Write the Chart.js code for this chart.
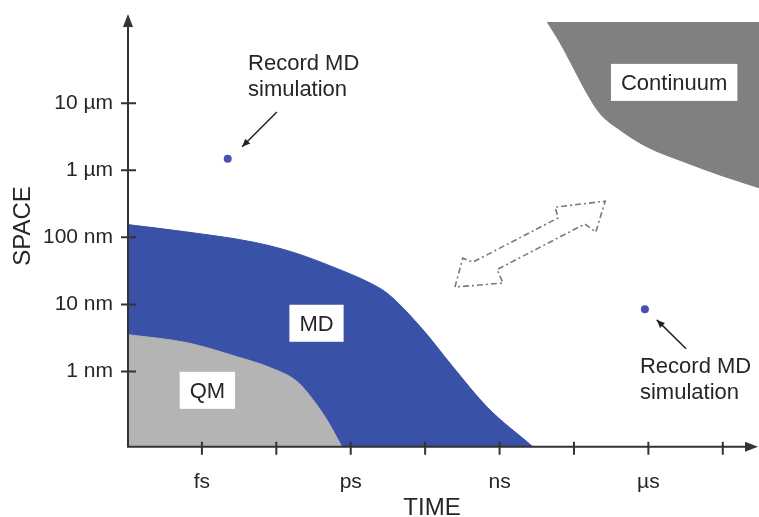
<!DOCTYPE html>
<html>
<head>
<meta charset="utf-8">
<script src="https://cdn.jsdelivr.net/npm/chart.js@4"></script>
<style>
  html, body { margin: 0; padding: 0; background: #fff; }
  #wrap { width: 759px; height: 517px; }
</style>
</head>
<body>
<div id="wrap"><canvas id="chart" width="759" height="517"></canvas></div>
<script>
// both axes are in log10 units (seconds, metres)
const xTicks = [-15, -13.5, -12, -10.5, -9, -7.5, -6, -4.5];
const xLabels = ['fs', '', 'ps', '', 'ns', '', 'µs', ''];
const yTicks = [-9, -8, -7, -6, -5];
const yLabels = ['1 nm', '10 nm', '100 nm', '1 µm', '10 µm'];

// region edges
const mdX = [-16.49, -15.30, -13.97, -13.17, -12.36, -11.61, -11.27, -10.60, -9.94, -9.25, -8.33];
const mdY = [-6.81, -6.92, -7.07, -7.22, -7.44, -7.68, -7.83, -8.33, -8.93, -9.53, -10.12];
const qmX = [-16.49, -15.30, -14.29, -13.63, -13.08, -12.76, -12.48, -12.18];
const qmY = [-8.45, -8.57, -8.78, -8.94, -9.15, -9.42, -9.72, -10.12];
const contX = [-8.04, -7.78, -7.52, -7.24, -6.98, -6.57, -6.03, -5.22, -4.56, -3.77];
const contY = [-3.79, -4.10, -4.46, -4.85, -5.15, -5.40, -5.65, -5.89, -6.07, -6.26];

// record MD simulations
const recordX = [-14.48, -6.07];
const recordY = [-5.83, -8.07];

// dashed double arrow outline
const bridgeX = [-9.90, -9.74, -9.54, -7.82, -7.88, -6.87, -7.06, -7.28, -9.05, -8.93, -9.90];
const bridgeY = [-7.74, -7.31, -7.37, -6.71, -6.55, -6.46, -6.92, -6.80, -7.48, -7.68, -7.74];

const regionNames = ['QM', 'MD', 'Continuum'];
const regionX = [-14.89, -12.69, -5.48];
const regionY = [-9.28, -8.28, -4.69];

const noteLines = ['Record MD', 'simulation'];
const noteX = [-14.07, -6.17];
const noteY = [-4.50, -9.02];
const pointerFromX = [-13.49, -5.24];
const pointerFromY = [-5.13, -8.66];
const pointerToX = [-14.19, -5.83];
const pointerToY = [-5.65, -8.23];

const FONT = '"Liberation Sans", Arial, sans-serif';
const INK = '#262626';

const pts = (xs, ys) => xs.map((v, i) => ({x: v, y: ys[i]}));

function arrowHead(ctx, x1, y1, x2, y2, len, half) {
  const a = Math.atan2(y2 - y1, x2 - x1);
  ctx.beginPath();
  ctx.moveTo(x2, y2);
  ctx.lineTo(x2 - len * Math.cos(a) + half * Math.sin(a), y2 - len * Math.sin(a) - half * Math.cos(a));
  ctx.lineTo(x2 - len * Math.cos(a) - half * Math.sin(a), y2 - len * Math.sin(a) + half * Math.cos(a));
  ctx.closePath();
  ctx.fill();
}

const decorations = {
  id: 'decorations',
  afterDatasetsDraw(chart) {
    const {ctx, chartArea: a, scales: {x, y}} = chart;
    ctx.save();

    // axes with arrows and crossing ticks
    ctx.strokeStyle = '#333';
    ctx.fillStyle = '#333';
    ctx.lineWidth = 2;
    ctx.beginPath();
    ctx.moveTo(a.left, a.bottom + 1);
    ctx.lineTo(a.left, a.top - 4);
    ctx.moveTo(a.left - 1, a.bottom);
    ctx.lineTo(a.right - 8, a.bottom);
    ctx.stroke();
    arrowHead(ctx, a.left, a.bottom, a.left, a.top - 8, 13, 5);
    arrowHead(ctx, a.left, a.bottom, a.right - 1, a.bottom, 13, 5);
    ctx.beginPath();
    x.ticks.forEach(t => {
      const px = x.getPixelForValue(t.value);
      ctx.moveTo(px, a.bottom - 5);
      ctx.lineTo(px, a.bottom + 8);
    });
    y.ticks.forEach(t => {
      const py = y.getPixelForValue(t.value);
      ctx.moveTo(a.left - 7, py);
      ctx.lineTo(a.left + 8, py);
    });
    ctx.stroke();

    // pointer arrows
    ctx.strokeStyle = '#222';
    ctx.fillStyle = '#222';
    ctx.lineWidth = 1.5;
    pointerFromX.forEach((fx, i) => {
      const x1 = x.getPixelForValue(fx), y1 = y.getPixelForValue(pointerFromY[i]);
      const x2 = x.getPixelForValue(pointerToX[i]), y2 = y.getPixelForValue(pointerToY[i]);
      ctx.beginPath();
      ctx.moveTo(x1, y1);
      ctx.lineTo(x2, y2);
      ctx.stroke();
      arrowHead(ctx, x1, y1, x2, y2, 8, 3.5);
    });

    // notes
    ctx.fillStyle = INK;
    ctx.font = '22px ' + FONT;
    ctx.textAlign = 'left';
    ctx.textBaseline = 'alphabetic';
    noteX.forEach((nx, i) => {
      const px = x.getPixelForValue(nx), py = y.getPixelForValue(noteY[i]);
      noteLines.forEach((line, k) => ctx.fillText(line, px, py + k * 26));
    });

    // region labels in white boxes
    ctx.textAlign = 'center';
    regionNames.forEach((name, i) => {
      const cx = x.getPixelForValue(regionX[i]), cy = y.getPixelForValue(regionY[i]);
      const w = ctx.measureText(name).width + 20;
      const h = 37;
      ctx.fillStyle = '#fff';
      ctx.fillRect(cx - w / 2, cy - h / 2, w, h);
      ctx.fillStyle = INK;
      ctx.fillText(name, cx, cy + 8);
    });

    // axis titles
    ctx.font = '24px ' + FONT;
    ctx.fillStyle = INK;
    ctx.fillText('TIME', 432, 515);
    ctx.translate(30, 226);
    ctx.rotate(-Math.PI / 2);
    ctx.fillText('SPACE', 0, 0);

    ctx.restore();
  }
};

new Chart(document.getElementById('chart'), {
  type: 'line',
  data: {
    datasets: [
      {
        data: pts(recordX, recordY),
        showLine: false,
        pointRadius: 4,
        pointBackgroundColor: '#4b4fb2',
        pointBorderWidth: 0,
        order: 0
      },
      {
        data: pts(bridgeX, bridgeY),
        borderColor: '#7a7a7a',
        borderWidth: 1.6,
        borderDash: [6, 3, 2, 3],
        pointRadius: 0,
        tension: 0,
        fill: false,
        order: 1
      },
      {
        data: pts(qmX, qmY),
        borderColor: '#b4b4b4',
        backgroundColor: '#b4b4b4',
        borderWidth: 1,
        pointRadius: 0,
        cubicInterpolationMode: 'monotone',
        fill: 'start',
        order: 2
      },
      {
        data: pts(mdX, mdY),
        borderColor: '#3a51a8',
        backgroundColor: '#3a51a8',
        borderWidth: 1,
        pointRadius: 0,
        cubicInterpolationMode: 'monotone',
        fill: 'start',
        order: 3
      },
      {
        data: pts(contX, contY),
        borderColor: '#808080',
        backgroundColor: '#808080',
        borderWidth: 1,
        pointRadius: 0,
        cubicInterpolationMode: 'monotone',
        fill: 'end',
        order: 4
      }
    ]
  },
  options: {
    responsive: false,
    animation: false,
    layout: { autoPadding: false, padding: { top: 22, right: 0, bottom: 0, left: 0 } },
    plugins: { legend: { display: false }, tooltip: { enabled: false } },
    scales: {
      x: {
        type: 'linear',
        min: -16.49,
        max: -3.77,
        afterBuildTicks: s => { s.ticks = xTicks.map(v => ({value: v})); },
        afterFit: s => { s.height = 70.3; s.paddingLeft = 0; s.paddingRight = 0; },
        grid: { display: false, drawTicks: false },
        border: { display: false },
        ticks: {
          autoSkip: false,
          maxRotation: 0,
          padding: 23,
          color: INK,
          font: { family: FONT, size: 21 },
          callback: (v, i) => xLabels[i]
        }
      },
      y: {
        type: 'linear',
        min: -10.12,
        max: -3.79,
        afterBuildTicks: s => { s.ticks = yTicks.map(v => ({value: v})); },
        afterFit: s => { s.width = 128; s.paddingTop = 0; s.paddingBottom = 0; },
        grid: { display: false, drawTicks: false },
        border: { display: false },
        ticks: {
          autoSkip: false,
          padding: 15,
          color: INK,
          font: { family: FONT, size: 21 },
          callback: (v, i) => yLabels[i]
        }
      }
    }
  },
  plugins: [decorations]
});
</script>
</body>
</html>
